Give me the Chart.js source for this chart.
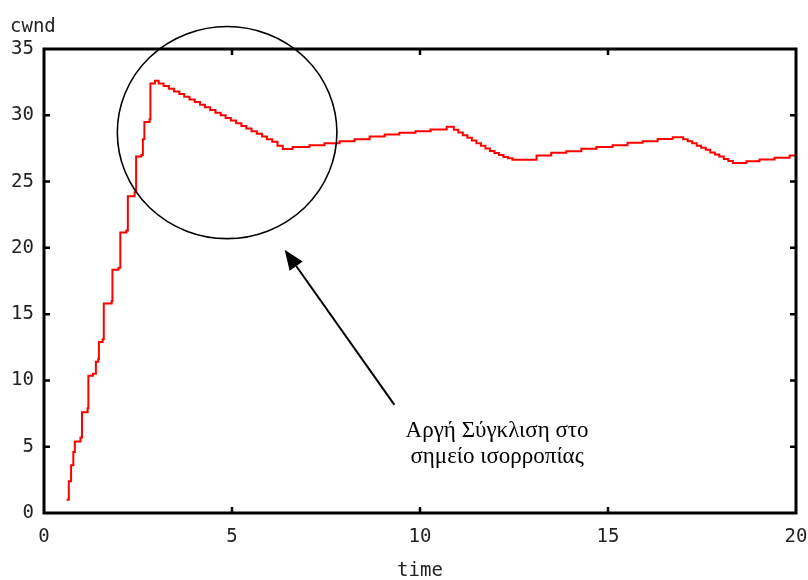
<!DOCTYPE html>
<html>
<head>
<meta charset="utf-8">
<script src="https://cdn.jsdelivr.net/npm/chart.js@4.4.1/dist/chart.umd.min.js"></script>
<style>
    body { margin: 0; background: #fff; }
    #contenedor { width: 808px; height: 580px; position: relative; }
</style>
</head>
<body>
<div id="contenedor"><canvas id="cwndChart"></canvas></div>
<script>
// Instantes (s) en los que cambia la ventana de congestión
const tiempos = [
    0.60, 0.66, 0.72, 0.78, 0.82, 0.97, 1.01, 1.16, 1.18, 1.30,
    1.38, 1.44, 1.46, 1.56, 1.59, 1.80, 1.82, 1.98, 2.03, 2.19,
    2.23, 2.41, 2.45, 2.59, 2.63, 2.67, 2.81, 2.83, 2.95,
    3.05, 3.18, 3.32, 3.46, 3.60, 3.73, 3.87, 4.01, 4.15, 4.28,
    4.42, 4.56, 4.70, 4.83, 4.97, 5.11, 5.25, 5.38, 5.52, 5.66,
    5.80, 5.93, 6.07, 6.21, 6.35,
    6.61, 7.06, 7.46, 7.86, 8.26, 8.66, 9.06, 9.45, 9.88, 10.28, 10.71,
    10.90, 11.02, 11.14, 11.26, 11.38, 11.50, 11.62, 11.74, 11.86, 11.98,
    12.10, 12.22, 12.34, 12.46,
    13.10, 13.49, 13.89, 14.29, 14.69, 15.12, 15.52, 15.92, 16.32, 16.72,
    17.00, 17.12, 17.24, 17.36, 17.48, 17.60, 17.72, 17.84, 17.96, 18.08,
    18.20, 18.32,
    18.68, 19.03, 19.43, 19.83, 20.00
];

// Valor de cwnd a partir de cada instante
const cwnd = [
    1.0, 2.4, 3.6, 4.6, 5.4, 5.7, 7.6, 7.9, 10.35, 10.5,
    11.4, 11.6, 12.9, 13.1, 15.8, 16.0, 18.35, 18.5, 21.15, 21.3,
    23.9, 24.2, 26.9, 27.0, 28.2, 29.5, 29.7, 32.4, 32.6,
    32.4, 32.2, 32.0, 31.8, 31.6, 31.4, 31.2, 31.0, 30.8, 30.6,
    30.4, 30.2, 30.0, 29.8, 29.6, 29.4, 29.2, 29.0, 28.8, 28.6,
    28.4, 28.2, 28.0, 27.7, 27.45,
    27.6, 27.74, 27.9, 28.04, 28.2, 28.4, 28.55, 28.68, 28.8, 28.93, 29.13,
    28.9, 28.7, 28.5, 28.3, 28.1, 27.9, 27.7, 27.5, 27.3, 27.15,
    27.0, 26.85, 26.75, 26.65,
    26.96, 27.17, 27.29, 27.47, 27.6, 27.74, 27.92, 28.04, 28.22, 28.35,
    28.2, 28.05, 27.9, 27.7, 27.55, 27.4, 27.2, 27.05, 26.9, 26.7,
    26.55, 26.4,
    26.53, 26.66, 26.79, 26.96, 26.96
];

const ticksX = [0, 5, 10, 15, 20];
const ticksY = [0, 5, 10, 15, 20, 25, 30, 35];

const familiaEjes = '"DejaVu Sans Mono", "Liberation Mono", monospace';

// Marco con marcas hacia dentro, elipse, flecha y texto explicativo
const decoracion = {
    id: 'decoracion',
    afterDraw(chart) {
        const ctx = chart.ctx;
        const area = chart.chartArea;
        const sx = chart.scales.x;
        const sy = chart.scales.y;

        ctx.save();
        ctx.strokeStyle = '#000';

        // marcas
        ctx.lineWidth = 2.5;
        ticksY.slice(1, -1).forEach(v => {
            const y = sy.getPixelForValue(v);
            ctx.beginPath();
            ctx.moveTo(area.left, y); ctx.lineTo(area.left + 6, y);
            ctx.moveTo(area.right, y); ctx.lineTo(area.right - 6, y);
            ctx.stroke();
        });
        ticksX.slice(1, -1).forEach(v => {
            const x = sx.getPixelForValue(v);
            ctx.beginPath();
            ctx.moveTo(x, area.bottom); ctx.lineTo(x, area.bottom - 6);
            ctx.moveTo(x, area.top); ctx.lineTo(x, area.top + 6);
            ctx.stroke();
        });

        // marco
        ctx.lineWidth = 3;
        ctx.strokeRect(area.left, area.top, area.right - area.left, area.bottom - area.top);

        // elipse alrededor del pico
        const cx = sx.getPixelForValue(4.87);
        const cy = sy.getPixelForValue(28.7);
        const rx = sx.getPixelForValue(4.87 + 2.92) - cx;
        const ry = cy - sy.getPixelForValue(28.7 + 8.0);
        ctx.lineWidth = 1.6;
        ctx.beginPath();
        ctx.ellipse(cx, cy, rx, ry, 0, 0, Math.PI * 2);
        ctx.stroke();

        // flecha
        const x0 = sx.getPixelForValue(9.32), y0 = sy.getPixelForValue(8.16);
        const x1 = sx.getPixelForValue(6.4), y1 = sy.getPixelForValue(19.86);
        const ang = Math.atan2(y1 - y0, x1 - x0);
        const largo = 20, ancho = 8;
        const bx = x1 - largo * Math.cos(ang), by = y1 - largo * Math.sin(ang);
        ctx.lineWidth = 2;
        ctx.beginPath();
        ctx.moveTo(x0, y0); ctx.lineTo(bx, by);
        ctx.stroke();
        ctx.fillStyle = '#000';
        ctx.beginPath();
        ctx.moveTo(x1, y1);
        ctx.lineTo(bx + ancho * Math.sin(ang), by - ancho * Math.cos(ang));
        ctx.lineTo(bx - ancho * Math.sin(ang), by + ancho * Math.cos(ang));
        ctx.closePath();
        ctx.fill();

        // texto de la anotación
        ctx.font = 'normal 23px "Liberation Serif", "Times New Roman", serif';
        ctx.textAlign = 'center';
        ctx.textBaseline = 'alphabetic';
        const tx = sx.getPixelForValue(12.05);
        ctx.fillText('Αργή Σύγκλιση στο', tx, 437);
        ctx.fillText('σημείο ισορροπίας', tx, 463);

        // título del eje y
        ctx.font = 'normal 19px ' + familiaEjes;
        ctx.fillStyle = '#222';
        ctx.textAlign = 'left';
        ctx.fillText('cwnd', 10, 32);
        ctx.restore();
    }
};

function inicializarGrafica() {
    const ctx = document.getElementById('cwndChart').getContext('2d');
    const puntos = tiempos.map((t, i) => ({ x: t, y: cwnd[i] }));

    return new Chart(ctx, {
        type: 'line',
        data: {
            datasets: [{
                label: 'cwnd',
                data: puntos,
                borderColor: '#ff0000',
                borderWidth: 2,
                pointRadius: 0,
                stepped: true,
                fill: false
            }]
        },
        options: {
            responsive: true,
            maintainAspectRatio: false,
            animation: false,
            layout: { padding: { top: 49, right: 12, left: 0, bottom: 0 }, autoPadding: false },
            plugins: {
                legend: { display: false },
                tooltip: { enabled: false }
            },
            scales: {
                x: {
                    type: 'linear',
                    min: 0,
                    max: 20,
                    afterFit: s => { s.height = 67; s.paddingLeft = 0; s.paddingRight = 0; },
                    afterBuildTicks: s => { s.ticks = ticksX.map(v => ({ value: v })); },
                    grid: { display: false, drawTicks: false },
                    border: { display: false },
                    ticks: { padding: 13, color: '#222', font: { family: familiaEjes, size: 19 } },
                    title: {
                        display: true,
                        text: 'time',
                        color: '#222',
                        padding: { top: 0, bottom: 0 },
                        font: { family: familiaEjes, size: 19, lineHeight: 0.9 }
                    }
                },
                y: {
                    min: 0,
                    max: 35,
                    afterFit: s => { s.width = 44; s.paddingTop = 0; s.paddingBottom = 0; },
                    afterBuildTicks: s => { s.ticks = ticksY.map(v => ({ value: v })); },
                    grid: { display: false, drawTicks: false },
                    border: { display: false },
                    ticks: { padding: 10, color: '#222', font: { family: familiaEjes, size: 19 } }
                }
            }
        },
        plugins: [decoracion]
    });
}

document.addEventListener('DOMContentLoaded', () => {
    inicializarGrafica();
});
</script>
</body>
</html>
